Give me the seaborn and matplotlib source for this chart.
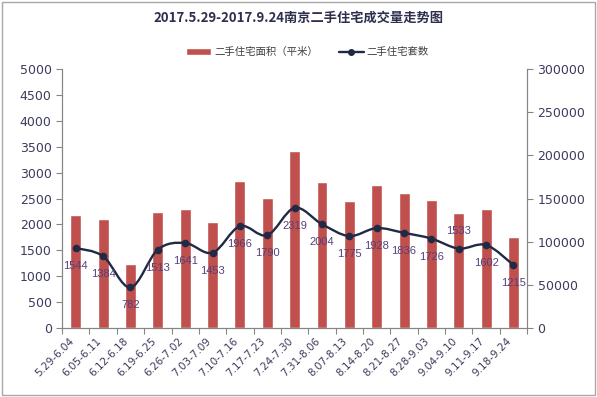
import seaborn as sns
import matplotlib.pyplot as plt
import matplotlib.transforms as mtransforms
from matplotlib.path import Path
from matplotlib.patches import PathPatch, Rectangle
from matplotlib.lines import Line2D
import numpy as np
import pandas as pd

weeks = ['5.29-6.04', '6.05-6.11', '6.12-6.18', '6.19-6.25', '6.26-7.02',
         '7.03-7.09', '7.10-7.16', '7.17-7.23', '7.24-7.30', '7.31-8.06',
         '8.07-8.13', '8.14-8.20', '8.21-8.27', '8.28-9.03', '9.04-9.10',
         '9.11-9.17', '9.18-9.24']
# 二手住宅面积（平米）
area = [130700, 126000, 73900, 134100, 137600, 122600, 170100, 150800, 204900,
        168900, 146900, 165500, 156200, 148100, 133000, 137600, 105200]
# 二手住宅套数
units = [1544, 1384, 782, 1513, 1641, 1453, 1966, 1790, 2319,
         2004, 1775, 1928, 1836, 1726, 1533, 1602, 1215]

bar_color = '#C0504D'
line_color = '#1F2A44'
label_color = '#56407A'
tick_color = '#3C3C5C'
spine_color = '#868686'

sns.set_theme(style='white')
plt.rcParams['font.family'] = ['DejaVu Sans', 'Noto Sans CJK SC']

df = pd.DataFrame({'week': weeks, 'area': area, 'units': units,
                   'pos': np.arange(len(weeks))})

fig = plt.figure(figsize=(5.97, 3.97), dpi=100)
ax = fig.add_axes([0.104, 0.174, 0.779, 0.652])
ax2 = ax.twinx()

# bars -> right axis
sns.barplot(data=df, x='week', y='area', color=bar_color, saturation=1,
            width=0.4, ax=ax, zorder=1)
ax.set_ylim(0, 300000)
ax.set_yticks(np.arange(0, 300001, 50000))
ax.yaxis.tick_right()
ax.yaxis.set_label_position('right')

# smoothed line -> left axis
x = df['pos'].to_numpy(dtype=float)
y = df['units'].to_numpy(dtype=float)
pts = np.column_stack([x, y])
ext = np.vstack([pts[0], pts, pts[-1]])
verts = [tuple(pts[0])]
codes = [Path.MOVETO]
for i in range(len(pts) - 1):
    p0, p1, p2, p3 = ext[i], ext[i + 1], ext[i + 2], ext[i + 3]
    c1 = p1 + (p2 - p0) / 6
    c2 = p2 - (p3 - p1) / 6
    verts += [tuple(c1), tuple(c2), tuple(p2)]
    codes += [Path.CURVE4] * 3
ax2.add_patch(PathPatch(Path(verts, codes), facecolor='none',
                        edgecolor=line_color, lw=1.7, zorder=3))
sns.scatterplot(data=df, x='pos', y='units', color=line_color, s=30,
                edgecolor=line_color, linewidth=0, ax=ax2, zorder=4)
ax2.set_ylim(0, 5000)
ax2.set_yticks(np.arange(0, 5001, 500))
ax2.yaxis.tick_left()
ax2.yaxis.set_label_position('left')

for i, v in enumerate(units):
    dy = 13 if v == 1533 else -13
    ax2.annotate(str(v), (i, v), xytext=(0, dy), textcoords='offset points',
                 ha='center', va='center', fontsize=8, color=label_color,
                 family='Liberation Sans', zorder=5)

for a in (ax, ax2):
    a.set_xlim(-0.5, len(weeks) - 0.5)
    a.set_xlabel('')
    a.set_ylabel('')
    a.spines['top'].set_visible(False)
    for s in ('left', 'right', 'bottom'):
        a.spines[s].set_color(spine_color)
        a.spines[s].set_linewidth(0.8)
    a.tick_params(axis='y', colors=tick_color, labelsize=9, length=4,
                  width=0.8, direction='out', color=spine_color)

ax.set_xticks(np.arange(len(weeks)))
ax.set_xticklabels(weeks, rotation=45, ha='right', rotation_mode='anchor',
                   fontsize=7.5, color=tick_color)
ax.tick_params(axis='x', length=0, pad=6)
shift = mtransforms.ScaledTranslation(-5 / 72, 0, fig.dpi_scale_trans)
for lab in ax.get_xticklabels():
    lab.set_transform(lab.get_transform() + shift)
ax.set_xticks(np.arange(-0.5, len(weeks)), minor=True)
ax.tick_params(axis='x', which='minor', length=4, width=0.8,
               color=spine_color, direction='out', bottom=True)

fig.text(0.5, 0.955, '2017.5.29-2017.9.24南京二手住宅成交量走势图',
         ha='center', va='center', fontsize=9.5, fontweight='bold',
         color='#2E2F4F', family=['Noto Sans CJK SC', 'DejaVu Sans'])

handles = [Rectangle((0, 0), 1, 1, facecolor=bar_color),
           Line2D([], [], color=line_color, lw=1.7, marker='o', markersize=4)]
leg = fig.legend(handles, ['二手住宅面积（平米）', '二手住宅套数'],
                 loc='center', bbox_to_anchor=(0.515, 0.868), ncol=2,
                 frameon=False, handlelength=2.4, handleheight=0.7,
                 columnspacing=2.0, handletextpad=0.3,
                 prop={'family': ['Noto Sans CJK SC', 'DejaVu Sans'], 'size': 7.5})
for t in leg.get_texts():
    t.set_color('#404040')

fig.patches.append(Rectangle((0.004, 0.006), 0.992, 0.988, transform=fig.transFigure,
                             fill=False, edgecolor='#A8A8A8', lw=1.0))

fig.savefig('out.png', dpi=100)
